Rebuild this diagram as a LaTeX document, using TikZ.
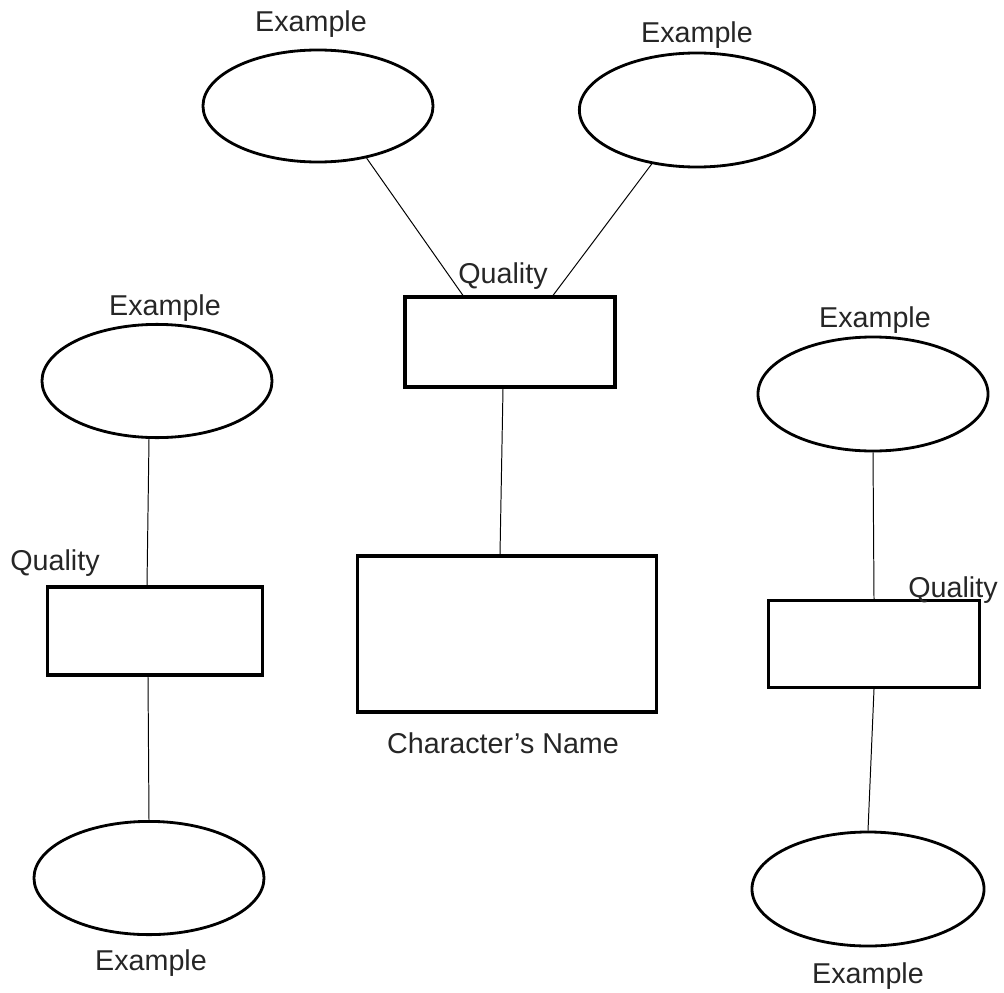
\documentclass[tikz,border=0pt]{standalone}
\usepackage{fontspec}
\setmainfont{Liberation Sans}
\usetikzlibrary{shapes.geometric}

\begin{document}
\begin{tikzpicture}[x=0.025cm,y=-0.025cm,
	trait/.style={ellipse,draw,line width=2pt,minimum width=5.75cm,minimum height=2.8cm,inner sep=0pt},
	quality/.style={rectangle,draw,line width=2.2pt,minimum width=5.3cm,minimum height=2.2cm,inner sep=0pt},
	tag/.style={font=\fontsize{20.4}{24}\selectfont,text=black!85,inner sep=0pt,anchor=base},
	link/.style={line width=0.7pt}] 
				\useasboundingbox (0,0) rectangle (1004,992);
				
				\node[trait] (ex_1) at (318,106) {}; 
				\node[trait,minimum width=5.88cm,minimum height=2.85cm] (ex_2) at (697,110) {}; 
				\node[trait,minimum height=2.83cm] (ex_3) at (157,381) {}; 
				\node[trait,minimum height=2.83cm] (ex_4) at (149,878) {}; 
				\node[trait,minimum height=2.85cm] (ex_5) at (873,394) {}; 
				\node[trait,minimum width=5.8cm,minimum height=2.85cm] (ex_6) at (868,889) {}; 
				
				\node[quality,minimum width=5.25cm,minimum height=2.25cm] (ql_1) at (510,342) {}; 
				\node[quality,minimum width=5.38cm,minimum height=2.2cm] (ql_2) at (155,631) {}; 
				\node[quality,minimum width=5.28cm,minimum height=2.18cm] (ql_3) at (874,644) {}; 
				\node[quality,minimum width=7.48cm,minimum height=3.9cm] (ch) at (507,634) {}; 
				
				\node[tag] (lb_1) at (311,32) {Example}; 
				\node[tag] (lb_2) at (697,43) {Example}; 
				\node[tag] (lb_3) at (165,315) {Example}; 
				\node[tag] (lb_4) at (151,970) {Example}; 
				\node[tag] (lb_5) at (875,327) {Example}; 
				\node[tag] (lb_6) at (868,983) {Example}; 
				\node[tag] (lb_7) at (503,283) {Quality}; 
				\node[tag] (lb_8) at (55,570) {Quality}; 
				\node[tag] (lb_9) at (953,597) {Quality}; 
				\node[tag] (lb_10) at (503,753) {Character's Name}; 
				
				\path[link] 
				(ex_1.-47) edge ([xshift=-1.175cm]ql_1.north)
				
				(ex_2.-130) edge ([xshift=1.075cm]ql_1.north)
				
				([xshift=-0.175cm]ql_1.south) edge ([xshift=-0.175cm]ch.north)
				
				([xshift=-0.2cm]ex_3.south) edge ([xshift=-0.2cm]ql_2.north)
				
				([xshift=-0.175cm]ql_2.south) edge (ex_4.north)
				
				(ex_5.south) edge (ql_3.north)
				
				(ql_3.south) edge (ex_6.north);
				
				
				\end{tikzpicture}
\end{document}
